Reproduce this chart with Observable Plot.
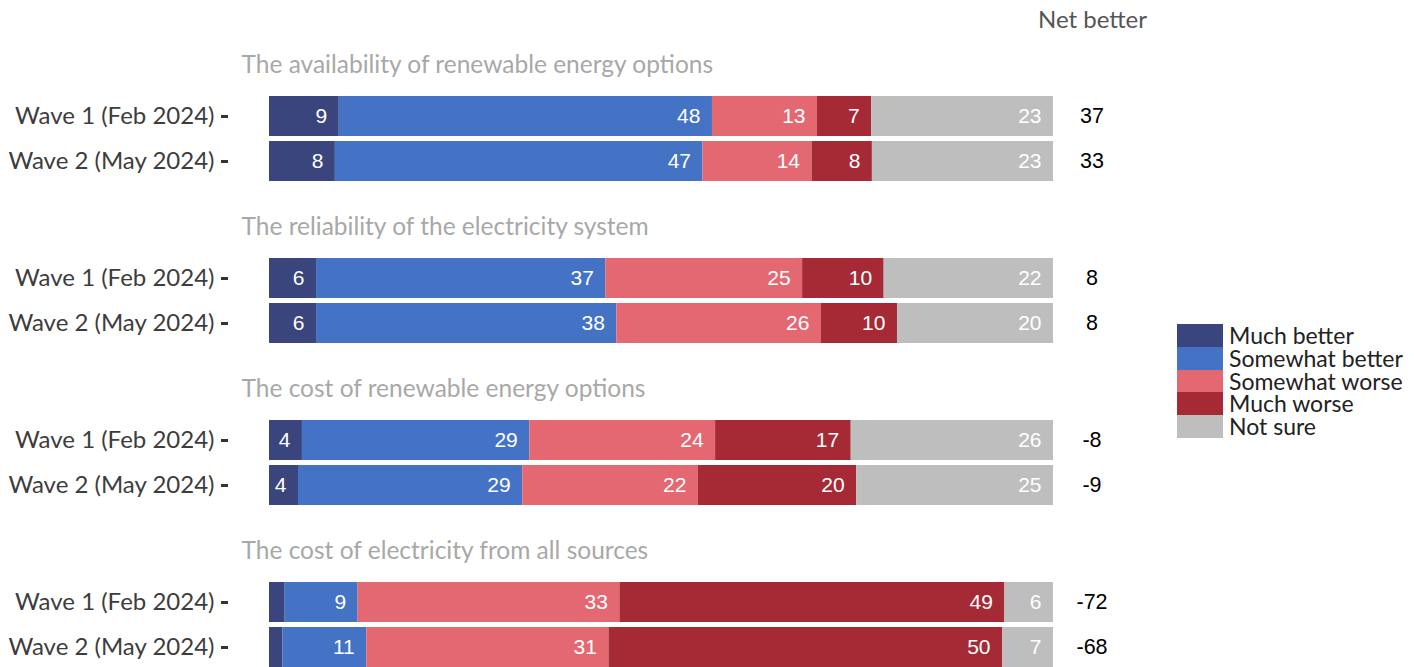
<!DOCTYPE html>
<html><head><meta charset="utf-8">
<script src="https://cdn.jsdelivr.net/npm/d3@7"></script>
<script src="https://cdn.jsdelivr.net/npm/@observablehq/plot@0.6"></script>
<style>
body{margin:0;background:#fff;}
#wrap{position:relative;width:1414px;height:667px;overflow:hidden;}
#legend{position:absolute;left:1177px;top:324px;font-family:Lato,sans-serif;font-size:23px;color:#222;}
.row{display:flex;align-items:center;height:22.8px;}
.sw{width:46px;height:22.8px;margin-right:6px;flex:none;}
.row span{display:block;line-height:22.8px;height:22.8px;white-space:nowrap;}
</style></head><body><div id="wrap"><div id="legend"></div></div>
<script>
const questions = [
  "The availability of renewable energy options",
  "The reliability of the electricity system",
  "The cost of renewable energy options",
  "The cost of electricity from all sources"
];
const waves = ["Wave 1 (Feb 2024)", "Wave 2 (May 2024)"];
const responses = ["Much better", "Somewhat better", "Somewhat worse", "Much worse", "Not sure"];
const colors = ["#39457c", "#4472c4", "#e46872", "#a52a36", "#bebebe"];
// shares per wave, in response order
const availability = [[8.9, 47.6, 13.4, 6.9, 23.2], [8.4, 46.9, 13.9, 7.7, 23.1]];
const reliability = [[6.0, 36.9, 25.1, 10.4, 21.6], [6.0, 38.3, 26.1, 9.7, 19.9]];
const costRenewable = [[4.2, 29.0, 23.7, 17.3, 25.8], [3.7, 28.6, 22.4, 20.2, 25.1]];
const costElectricity = [[2.0, 9.3, 33.4, 49.1, 6.2], [1.7, 10.7, 30.9, 50.2, 6.5]];
const netBetter = [[37, 33], [8, 8], [-8, -9], [-72, -68]];

const values = [availability, reliability, costRenewable, costElectricity];
const rows = [];
questions.forEach((q, qi) => waves.forEach((w, wi) => responses.forEach((r, ri) =>
  rows.push({q, w, r, v: values[qi][wi][ri]}))));
const netRows = [];
questions.forEach((q, qi) => waves.forEach((w, wi) => netRows.push({q, w, n: netBetter[qi][wi]})));

const numFont = "Liberation Sans, Arial, sans-serif";
const chart = Plot.plot({
  width: 1414,
  height: 668,
  marginLeft: 269,
  marginRight: 361,
  marginTop: 96,
  marginBottom: 0,
  style: {fontFamily: "Lato, sans-serif", fontSize: "24px", background: "white"},
  x: {domain: [0, 100], axis: null},
  y: {domain: waves, paddingInner: 0.11, paddingOuter: 0, label: null, axis: null},
  fy: {domain: questions, paddingInner: 0.47, paddingOuter: 0, axis: null, label: null},
  color: {domain: responses, range: colors},
  marks: [
    Plot.barX(rows, {x: "v", y: "w", fy: "q", fill: "r", order: responses}),
    Plot.text(rows, Plot.stackX2({x: "v", y: "w", fy: "q", z: "r", order: responses,
      text: d => d.v >= 3 ? Math.round(d.v) : "",
      textAnchor: "end", dx: -12, fill: "white",
      fontFamily: numFont, fontSize: 21})),
    Plot.axisY({tickSize: 7, tickPadding: 7, dx: -41, strokeWidth: 3, stroke: "#333",
      fill: "#3d3d3d", fontSize: 24, label: null}),
    Plot.text(questions, {fy: d => d, text: d => d, frameAnchor: "top-left", lineAnchor: "middle",
      dx: -28, dy: -31, textAnchor: "start", fill: "#a8a8a8", fontSize: 24.5}),
    Plot.text(netRows, {y: "w", fy: "q", text: "n", frameAnchor: "right", dx: 38.5,
      textAnchor: "middle", fill: "#000", fontFamily: numFont, fontSize: 21.5}),
    Plot.text([questions[0]], {fy: d => d, text: () => "Net better", frameAnchor: "top-right",
      lineAnchor: "middle", dx: 39, dy: -76, textAnchor: "middle", fill: "#555", fontSize: 24})
  ]
});
document.getElementById("wrap").prepend(chart);

const legend = document.getElementById("legend");
responses.forEach((r, i) => {
  const row = document.createElement("div");
  row.className = "row";
  const sw = document.createElement("div");
  sw.className = "sw";
  sw.style.background = colors[i];
  const lab = document.createElement("span");
  lab.textContent = r;
  row.append(sw, lab);
  legend.append(row);
});
</script>
</body></html>
